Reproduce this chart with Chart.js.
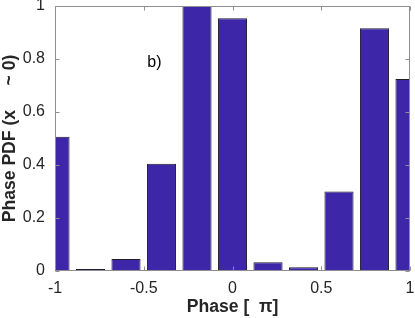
<!DOCTYPE html>
<html>
<head>
<meta charset="utf-8">
<script src="https://cdn.jsdelivr.net/npm/chart.js@4"></script>
<style>
html,body{margin:0;padding:0;background:#fff;}
#c{display:block;}
</style>
</head>
<body>
<canvas id="c" width="415" height="318"></canvas>
<script>
// Data
const phaseCenters = [-1, -0.8, -0.6, -0.4, -0.2, 0, 0.2, 0.4, 0.6, 0.8, 1];
const pdfValues   = [0.507, 0.008, 0.045, 0.405, 1.0, 0.954, 0.033, 0.014, 0.30, 0.916, 0.725];
const xTickValues = [-1, -0.5, 0, 0.5, 1];
const yTickValues = [0, 0.2, 0.4, 0.6, 0.8, 1];
const xTitle = 'Phase [  \u03c0]';
const yTitle = 'Phase PDF (x     ~ 0)';
const panelLabel = 'b)';
const panelLabelPos = {x: -0.44, y: 0.785};

const FONT = '"Liberation Sans", Arial, Helvetica, sans-serif';
const TXT = '#262626';

const framePlugin = {
  id: 'frame',
  afterDraw(chart) {
    const {ctx, chartArea: a, scales: {x, y}} = chart;
    ctx.save();
    ctx.strokeStyle = '#8f8f8f';
    ctx.lineWidth = 1;
    const L = Math.round(a.left) + 0.5, R = Math.round(a.right) - 0.5;
    const T = Math.round(a.top) + 0.5, B = Math.round(a.bottom) - 0.5;
    ctx.beginPath();
    ctx.rect(L, T, R - L, B - T);
    ctx.stroke();
    const tl = 4;
    ctx.beginPath();
    xTickValues.forEach(v => {
      const px = Math.round(x.getPixelForValue(v)) + 0.5;
      ctx.moveTo(px, B); ctx.lineTo(px, B - tl);
      ctx.moveTo(px, T); ctx.lineTo(px, T + tl);
    });
    yTickValues.forEach(v => {
      const py = Math.round(y.getPixelForValue(v)) + 0.5;
      ctx.moveTo(L, py); ctx.lineTo(L + tl, py);
      ctx.moveTo(R, py); ctx.lineTo(R - tl, py);
    });
    ctx.stroke();
    // panel label
    ctx.fillStyle = '#000';
    ctx.font = '16px ' + FONT;
    ctx.textAlign = 'center';
    ctx.textBaseline = 'middle';
    ctx.fillText(panelLabel, x.getPixelForValue(panelLabelPos.x), y.getPixelForValue(panelLabelPos.y));
    ctx.restore();
  }
};

new Chart(document.getElementById('c'), {
  type: 'bar',
  data: {
    datasets: [{
      data: phaseCenters.map((p, i) => ({x: p, y: pdfValues[i]})),
      backgroundColor: '#3e26a8',
      borderColor: '#1c1c2a',
      borderWidth: 1,
      borderSkipped: false,
      barPercentage: 0.82,
      categoryPercentage: 1,
      clip: 0
    }]
  },
  options: {
    responsive: false,
    animation: false,
    events: [],
    layout: {padding: {top: 6, right: 5, left: 0, bottom: 0}},
    plugins: {legend: {display: false}, tooltip: {enabled: false}},
    scales: {
      x: {
        type: 'linear',
        offset: false,
        min: -1, max: 1,
        grid: {display: false, drawTicks: false, offset: false},
        border: {display: false},
        afterBuildTicks: s => { s.ticks = xTickValues.map(v => ({value: v})); },
        afterFit: s => { s.height = 47; s.paddingLeft = 0; s.paddingRight = 0; },
        ticks: {color: TXT, font: {family: FONT, size: 16}, padding: 8, maxRotation: 0, autoSkip: false,
                callback: v => String(v)},
        title: {display: true, text: xTitle, color: TXT, padding: 0,
                font: {family: FONT, size: 17.6, weight: 'bold'}}
      },
      y: {
        min: 0, max: 1,
        grid: {display: false, drawTicks: false},
        border: {display: false},
        afterBuildTicks: s => { s.ticks = yTickValues.map(v => ({value: v})); },
        afterFit: s => { s.width = 55; s.paddingTop = 0; s.paddingBottom = 0; },
        ticks: {color: TXT, font: {family: FONT, size: 16}, padding: 10, autoSkip: false,
                callback: v => String(v)},
        title: {display: true, text: yTitle, color: TXT, padding: 0,
                font: {family: FONT, size: 17.6, weight: 'bold'}}
      }
    }
  },
  plugins: [framePlugin]
});
</script>
</body>
</html>
